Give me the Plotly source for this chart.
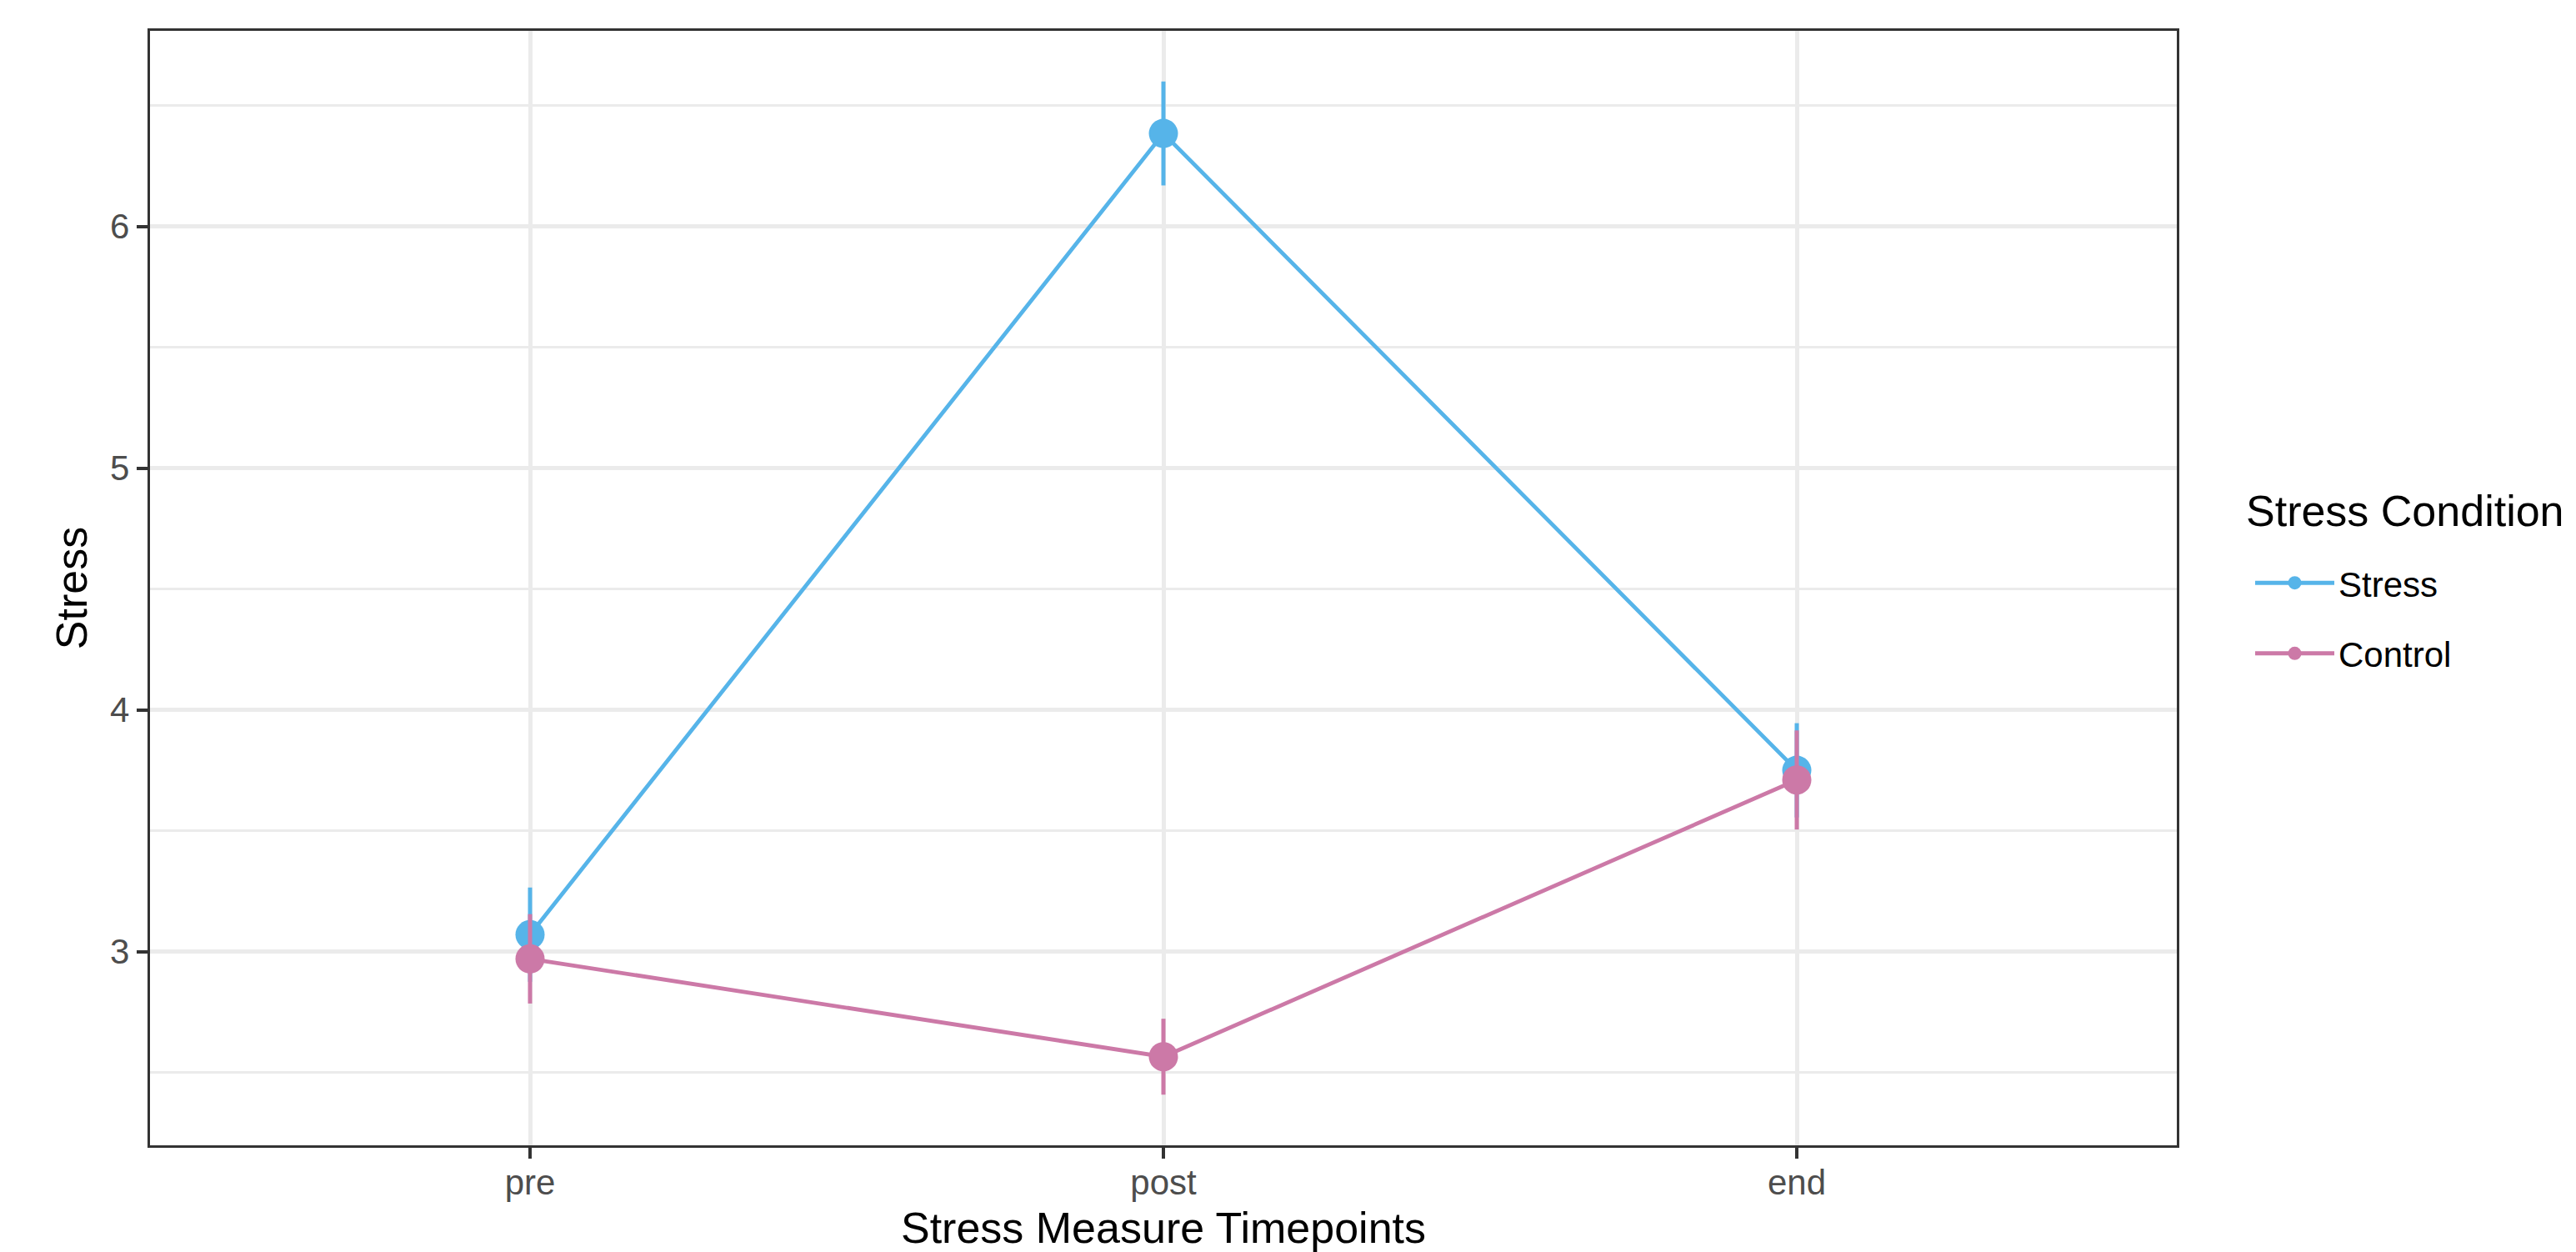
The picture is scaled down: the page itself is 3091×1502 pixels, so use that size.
import plotly.graph_objects as go

timepoints = ["pre", "post", "end"]
conditions = ["Stress", "Control"]
stress_mean = [3.07, 6.385, 3.75]
stress_err = [0.195, 0.215, 0.195]
control_mean = [2.97, 2.565, 3.71]
control_err = [0.185, 0.157, 0.205]
colors = {"Stress": "#56B4E9", "Control": "#CC79A7"}
legend_title = "Stress Condition"

means = {"Stress": stress_mean, "Control": control_mean}
errs = {"Stress": stress_err, "Control": control_err}

FONT = "Liberation Sans, Arial, Helvetica, sans-serif"

fig = go.Figure()

# lines first (like geom_line)
for c in conditions:
    fig.add_trace(go.Scatter(
        x=timepoints, y=means[c], mode="lines",
        line=dict(color=colors[c], width=4.8),
        showlegend=False, hoverinfo="skip", legendgroup=c,
    ))

# point ranges
for c in conditions:
    fig.add_trace(go.Scatter(
        x=timepoints, y=means[c], mode="markers", name=c,
        marker=dict(color=colors[c], size=35, line=dict(width=0)),
        error_y=dict(type="data", array=errs[c], color=colors[c], thickness=5, width=0),
        showlegend=False, legendgroup=c,
    ))

# legend entries
for c in conditions:
    fig.add_trace(go.Scatter(
        x=[None], y=[None], mode="lines+markers", name=c,
        marker=dict(color=colors[c], size=35),
        line=dict(color=colors[c], width=5),
        showlegend=True, legendgroup=c,
    ))

lo = min(min(m - e for m, e in zip(means[c], errs[c])) for c in conditions)
hi = max(max(m + e for m, e in zip(means[c], errs[c])) for c in conditions)
pad = (hi - lo) * 0.05

fig.update_layout(
    width=3091, height=1502,
    paper_bgcolor="white", plot_bgcolor="white",
    margin=dict(l=180, r=479, t=37, b=128),
    font=dict(family=FONT, color="black"),
    legend=dict(
        font=dict(size=42, color="black"),
        x=1.0366, xanchor="left", y=0.53, yanchor="top",
        tracegroupgap=27, itemwidth=95,
        bgcolor="rgba(0,0,0,0)",
    ),
    showlegend=True,
    annotations=[dict(
        text=legend_title, xref="paper", yref="paper",
        x=1.0335, y=0.569, xanchor="left", yanchor="middle",
        showarrow=False, font=dict(size=52, color="black", family=FONT),
    )],
)

fig.update_xaxes(
    type="category", categoryorder="array", categoryarray=timepoints,
    range=[-0.6, 2.6], automargin=False,
    showgrid=True, gridcolor="#EBEBEB", gridwidth=4.5,
    showline=True, mirror=True, linecolor="#333333", linewidth=3.3,
    ticks="outside", ticklen=13, tickwidth=4, tickcolor="#333333",
    tickfont=dict(size=42, color="#4D4D4D", family=FONT),
    ticklabelstandoff=-8,
    title=dict(text="Stress Measure Timepoints", font=dict(size=52, color="black"), standoff=22),
    zeroline=False,
)

fig.update_yaxes(
    range=[lo - pad, hi + pad], automargin=False,
    dtick=1, tick0=0,
    showgrid=True, gridcolor="#EBEBEB", gridwidth=4.5,
    minor=dict(dtick=0.5, tick0=0, showgrid=True, gridcolor="#EBEBEB", gridwidth=2.5),
    showline=True, mirror=True, linecolor="#333333", linewidth=3.3,
    ticks="outside", ticklen=13, tickwidth=4, tickcolor="#333333",
    tickfont=dict(size=42, color="#4D4D4D", family=FONT),
    title=dict(text="Stress", font=dict(size=52, color="black"), standoff=11),
    zeroline=False,
)

fig.write_html("out.html", config={"displayModeBar": False},
               post_script="document.body.style.margin='0';")
